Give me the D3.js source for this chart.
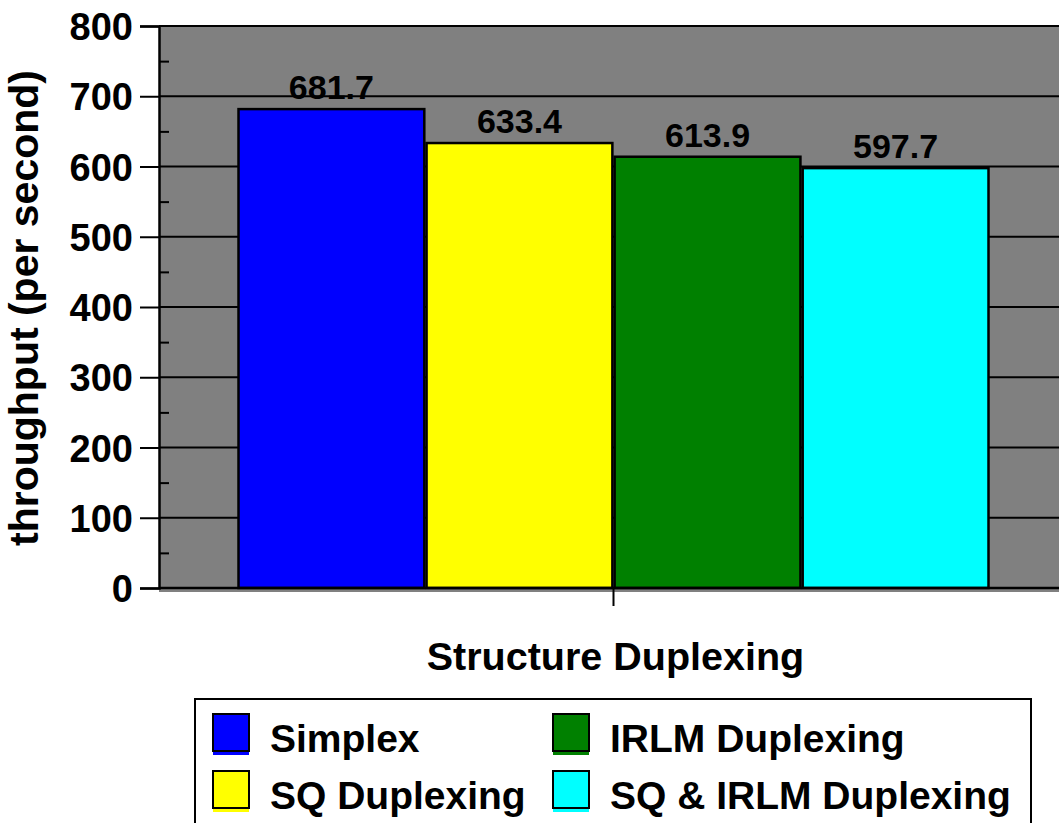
<!DOCTYPE html>
<html><head><meta charset="utf-8">
<script src="https://cdn.jsdelivr.net/npm/d3@7"></script>
<style>body{margin:0;background:#fff}svg{display:block}text{font-family:"Liberation Sans",Arial,sans-serif;font-weight:bold;fill:#000}</style>
</head><body><svg id="c" width="1059" height="823"></svg>
<script>
const categories = ["Structure Duplexing"];
const series = ["Simplex", "SQ Duplexing", "IRLM Duplexing", "SQ & IRLM Duplexing"];
const values = [681.7, 633.4, 613.9, 597.7];
const colors = ["#0000ff", "#ffff00", "#008000", "#00ffff"];
const yTicks = [0, 100, 200, 300, 400, 500, 600, 700, 800];
const yMinorTicks = [50, 150, 250, 350, 450, 550, 650, 750];

(function () {
const svg = d3.select("#c");
const pLeft = 159, pRight = 1068, pTop = 26, pBottom = 588;
const y = d3.scaleLinear().domain([0, 800]).range([pBottom, pTop]);
const x0 = d3.scaleBand().domain(categories).range([pLeft, pRight]).paddingInner(0).paddingOuter(0.106);
const x1 = d3.scaleBand().domain(series).range([0, x0.bandwidth()]).paddingInner(0.012);

// plot background
svg.append("rect").attr("x", pLeft).attr("y", pTop).attr("width", 1059 - pLeft).attr("height", pBottom - pTop).attr("fill", "#808080");
// depth strip under floor
svg.append("rect").attr("x", pLeft).attr("y", pBottom).attr("width", 1059 - pLeft).attr("height", 4).attr("fill", "#808080");

// gridlines
svg.append("g").selectAll("line").data(yTicks).join("line")
  .attr("x1", pLeft).attr("x2", 1059).attr("y1", d => y(d)).attr("y2", d => y(d))
  .attr("stroke", "#000").attr("stroke-width", 2);

// y axis
const yAxis = svg.append("g").attr("transform", `translate(${pLeft},0)`)
  .call(d3.axisLeft(y).tickValues(yTicks).tickSize(19).tickPadding(7));
yAxis.select(".domain").attr("stroke", "#000").attr("stroke-width", 2.5);
yAxis.selectAll(".tick line").attr("stroke", "#000").attr("stroke-width", 2);
yAxis.selectAll(".tick text").attr("font-size", 38).attr("font-family", '"Liberation Sans",Arial,sans-serif').attr("font-weight", "bold").attr("fill", "#000").attr("dy", "0.36em");
const yMinor = svg.append("g").attr("transform", `translate(${pLeft},0)`)
  .call(d3.axisRight(y).tickValues(yMinorTicks).tickSize(10).tickFormat(""));
yMinor.select(".domain").remove();
yMinor.selectAll(".tick line").attr("stroke", "#000").attr("stroke-width", 2);

// bars
const g = svg.append("g").attr("transform", `translate(${x0(categories[0])},0)`);
g.selectAll("rect").data(values).join("rect")
  .attr("x", (d, i) => x1(series[i]))
  .attr("y", d => y(d))
  .attr("width", x1.bandwidth())
  .attr("height", d => y(0) - y(d))
  .attr("fill", (d, i) => colors[i])
  .attr("stroke", "#000").attr("stroke-width", 2.5);
g.selectAll("text").data(values).join("text")
  .attr("x", (d, i) => x1(series[i]) + x1.bandwidth() / 2)
  .attr("y", d => y(d) - 10)
  .attr("text-anchor", "middle").attr("font-size", 34)
  .text(d => d.toFixed(1));

// x axis baseline
svg.append("line").attr("x1", pLeft).attr("x2", 1059).attr("y1", pBottom).attr("y2", pBottom).attr("stroke", "#000").attr("stroke-width", 2.5);
// category tick
const xc = x0(categories[0]) + x0.bandwidth() / 2;
svg.append("line").attr("x1", xc).attr("x2", xc).attr("y1", pBottom).attr("y2", pBottom + 18).attr("stroke", "#000").attr("stroke-width", 2);

// axis titles
svg.append("text").attr("x", xc + 2).attr("y", 670).attr("text-anchor", "middle").attr("font-size", 39.5).text(categories[0]);
svg.append("text").attr("transform", "translate(38,308) rotate(-90)").attr("text-anchor", "middle").attr("font-size", 41).text("throughput (per second)");

// legend
svg.append("rect").attr("x", 195).attr("y", 699).attr("width", 836).attr("height", 140).attr("fill", "#fff").attr("stroke", "#000").attr("stroke-width", 2);
const legPos = [[213, 714], [213, 771], [553, 714], [553, 771]];
series.forEach((s, i) => {
  const [lx, ly] = legPos[i];
  svg.append("rect").attr("x", lx).attr("y", ly + 3).attr("width", 36).attr("height", 38).attr("fill", colors[i]);
  svg.append("rect").attr("x", lx).attr("y", ly).attr("width", 36).attr("height", 37).attr("fill", colors[i]).attr("stroke", "#000").attr("stroke-width", 2);
  svg.append("text").attr("x", lx + 57).attr("y", ly + 38).attr("font-size", 39).text(s);
});
})();
</script></body></html>
